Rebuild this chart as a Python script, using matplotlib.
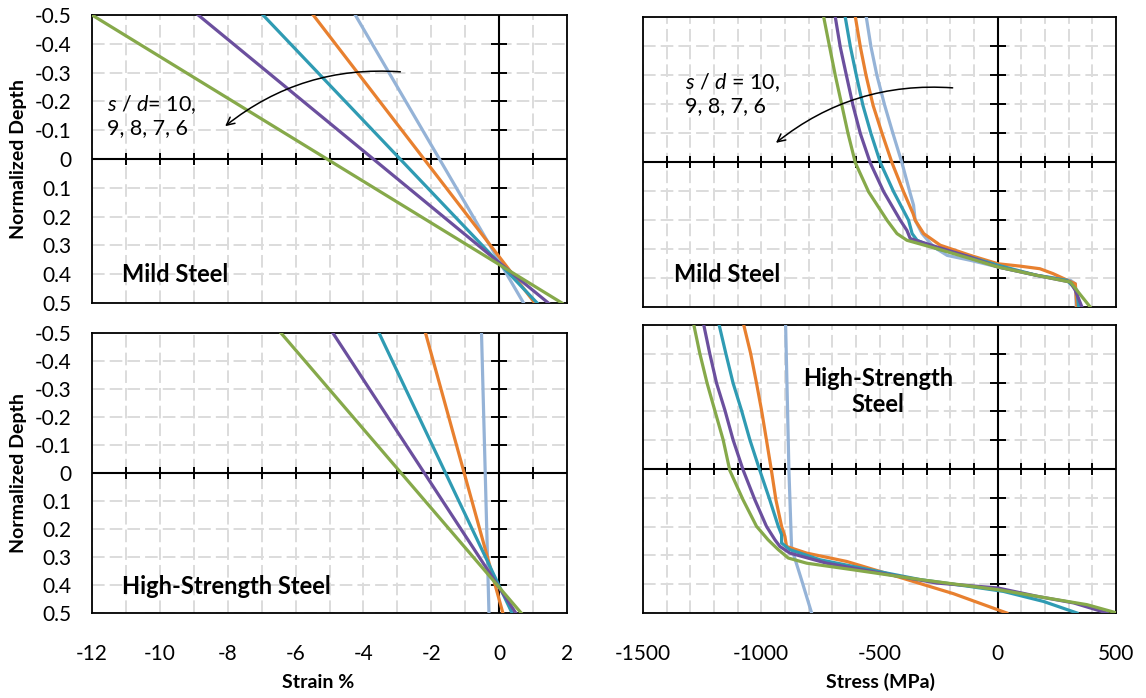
import matplotlib
matplotlib.use("Agg")
import matplotlib.pyplot as plt
import numpy as np

plt.rcParams["font.family"] = ["Lato", "DejaVu Sans"]
plt.rcParams["axes.unicode_minus"] = False
plt.rcParams["mathtext.fontset"] = "custom"
plt.rcParams["mathtext.rm"] = "Lato"
plt.rcParams["mathtext.it"] = "Lato:italic"

# series: s/d = 10, 9, 8, 7, 6
sd_values = [10, 9, 8, 7, 6]
colors = ["#95B3D7", "#E8802F", "#2F9BB3", "#6B4F9E", "#86A94A"]

# ---- strain profiles (linear), value at depth -0.5 and 0.5 ----
strain_depth = [-0.5, 0.5]
mild_strain = [
    [-4.24, 0.72],
    [-5.48, 1.05],
    [-6.96, 1.12],
    [-8.87, 1.45],
    [-12.0, 1.85],
]
hss_strain = [
    [-0.52, -0.30],
    [-2.17, 0.11],
    [-3.54, 0.38],
    [-4.90, 0.49],
    [-6.43, 0.65],
]

# ---- stress profiles, mild steel ----
mild_depth = [
    [-0.5, -0.397, -0.299, -0.195, -0.098, 0.003, 0.103, 0.149, 0.201, 0.247, 0.293, 0.322, 0.339, 0.362, 0.391, 0.408, 0.42, 0.5],
    [-0.5, -0.397, -0.299, -0.195, -0.098, 0.003, 0.103, 0.178, 0.201, 0.247, 0.287, 0.322, 0.351, 0.359, 0.368, 0.385, 0.406, 0.42, 0.5],
    [-0.5, -0.397, -0.299, -0.195, -0.098, 0.003, 0.103, 0.201, 0.247, 0.27, 0.299, 0.328, 0.356, 0.391, 0.408, 0.443, 0.5],
    [-0.5, -0.397, -0.299, -0.195, -0.098, 0.003, 0.103, 0.201, 0.236, 0.264, 0.293, 0.328, 0.362, 0.391, 0.414, 0.443, 0.5],
    [-0.5, -0.397, -0.299, -0.195, -0.098, 0.003, 0.103, 0.201, 0.247, 0.27, 0.299, 0.333, 0.362, 0.391, 0.414, 0.443, 0.5],
]
mild_stress = [
    [-556, -536, -511, -478, -443, -405, -372, -356, -349, -320, -271, -214, -116, 1, 166, 307, 328, 332],
    [-602, -581, -557, -527, -489, -447, -398, -358, -349, -313, -243, -116, 1, 94, 178, 234, 290, 328, 335],
    [-645, -623, -598, -570, -536, -496, -440, -377, -362, -341, -257, -116, 1, 166, 293, 335, 342],
    [-687, -666, -640, -612, -581, -539, -482, -412, -384, -370, -257, -116, 1, 166, 307, 328, 356],
    [-736, -711, -687, -659, -633, -602, -546, -468, -426, -384, -257, -116, 1, 166, 307, 335, 391],
]

# ---- stress profiles, high-strength steel ----
hss_depth = [
    [-0.5, -0.25, 0.005, 0.269, 0.292, 0.384, 0.5],
    [-0.5, -0.402, -0.298, -0.205, -0.101, 0.005, 0.107, 0.199, 0.234, 0.269, 0.292, 0.321, 0.373, 0.433, 0.5],
    [-0.5, -0.402, -0.298, -0.205, -0.101, 0.005, 0.107, 0.199, 0.228, 0.257, 0.28, 0.315, 0.35, 0.384, 0.408, 0.425, 0.46, 0.5],
    [-0.5, -0.402, -0.298, -0.205, -0.101, 0.005, 0.107, 0.199, 0.246, 0.269, 0.292, 0.327, 0.361, 0.396, 0.413, 0.442, 0.465, 0.5],
    [-0.5, -0.402, -0.298, -0.205, -0.101, 0.005, 0.107, 0.199, 0.246, 0.28, 0.309, 0.327, 0.35, 0.384, 0.419, 0.448, 0.471, 0.5],
]
hss_stress = [
    [-897, -890, -883, -872, -865, -830, -787],
    [-1074, -1045, -1020, -999, -978, -957, -938, -914, -900, -893, -808, -639, -427, -187, 38],
    [-1178, -1150, -1119, -1084, -1048, -1006, -964, -928, -914, -914, -879, -752, -540, -328, -117, 24, 194, 335],
    [-1243, -1218, -1189, -1154, -1119, -1076, -1027, -978, -942, -921, -879, -724, -498, -258, 0, 166, 321, 462],
    [-1285, -1260, -1229, -1197, -1161, -1133, -1077, -1020, -971, -928, -886, -808, -611, -328, 0, 208, 377, 504],
]

depth_ticks = [-0.5, -0.4, -0.3, -0.2, -0.1, 0, 0.1, 0.2, 0.3, 0.4, 0.5]
depth_labels = ["-0.5", "-0.4", "-0.3", "-0.2", "-0.1", "0", "0.1", "0.2", "0.3", "0.4", "0.5"]
strain_ticks = [-12, -10, -8, -6, -4, -2, 0, 2]
stress_ticks = [-1500, -1000, -500, 0, 500]

W, H = 1146, 698
fig = plt.figure(figsize=(W / 100, H / 100), dpi=100)


def px_axes(left, top, right, bottom):
    return fig.add_axes([left / W, 1 - bottom / H, (right - left) / W, (bottom - top) / H])


def setup(ax, xlim, xmajor, xminor_step, show_x, show_y):
    ax.set_xlim(*xlim)
    ax.set_ylim(0.5, -0.5)
    ax.set_xticks(xmajor)
    ax.set_xticks(np.arange(xlim[0], xlim[1] + xminor_step / 2, xminor_step), minor=True)
    ax.set_yticks(depth_ticks)
    ax.set_yticklabels(depth_labels if show_y else [])
    if not show_x:
        ax.set_xticklabels([])
    ax.tick_params(which="both", length=0, labelsize=15, colors="black")
    ax.tick_params(axis="x", pad=22)
    ax.tick_params(axis="y", pad=15)
    ax.grid(which="both", axis="x", color="#dcdcdc", lw=1.4, ls=(0, (6.5, 2.6)))
    ax.grid(which="major", axis="y", color="#dcdcdc", lw=1.4, ls=(0, (6.5, 2.6)))
    ax.set_axisbelow(True)
    for s in ax.spines.values():
        s.set_linewidth(1.3)
        s.set_color("black")
    # axes crossing at zero with their own tick marks
    ax.axhline(0, color="black", lw=1.5, zorder=2)
    ax.axvline(0, color="black", lw=1.5, zorder=2)
    xt = np.arange(xlim[0] + xminor_step, xlim[1], xminor_step)
    yt = [-0.4, -0.3, -0.2, -0.1, 0.1, 0.2, 0.3, 0.4]
    ax.plot(xt, np.zeros(len(xt)), ls="none", marker="|", ms=9, mew=1.4, color="black", zorder=2)
    ax.plot(np.zeros(len(yt)), yt, ls="none", marker="_", ms=12, mew=1.4, color="black", zorder=2)


ax_tl = px_axes(92, 15, 567, 303)
ax_bl = px_axes(92, 333, 567, 613)
ax_tr = px_axes(643, 17, 1116, 307)
ax_br = px_axes(643, 325, 1116, 613)

setup(ax_tl, (-12, 2), strain_ticks, 1, False, True)
setup(ax_bl, (-12, 2), strain_ticks, 1, True, True)
setup(ax_tr, (-1500, 500), stress_ticks, 100, False, False)
setup(ax_br, (-1500, 500), stress_ticks, 100, True, False)

for i, sd in enumerate(sd_values):
    ax_tl.plot(mild_strain[i], strain_depth, color=colors[i], lw=2.3, zorder=3, label=f"s/d = {sd}")
    ax_bl.plot(hss_strain[i], strain_depth, color=colors[i], lw=2.3, zorder=3)
    ax_tr.plot(mild_stress[i], mild_depth[i], color=colors[i], lw=2.3, zorder=3)
    ax_br.plot(hss_stress[i], hss_depth[i], color=colors[i], lw=2.3, zorder=3)

# annotations
ax_tl.text(-11.56, -0.15, "$\\mathit{s}$ / $\\mathit{d}$= 10,\n9, 8, 7, 6", fontsize=15.5,
           va="center", ha="left", linespacing=1.15)
ax_tl.annotate("", xy=(-8.14, -0.108), xytext=(-2.83, -0.302),
               arrowprops=dict(arrowstyle="->", connectionstyle="arc3,rad=0.2",
                               color="black", lw=1.1, mutation_scale=14))
ax_tr.text(-1321, -0.235, "$\\mathit{s}$ / $\\mathit{d}$ = 10,\n9, 8, 7, 6", fontsize=15.5,
           va="center", ha="left", linespacing=1.15)
ax_tr.annotate("", xy=(-947, -0.06), xytext=(-179, -0.255),
               arrowprops=dict(arrowstyle="->", connectionstyle="arc3,rad=0.2",
                               color="black", lw=1.1, mutation_scale=14))

ax_tl.text(-11.12, 0.4, "Mild Steel", fontsize=17, fontweight="bold", va="center", ha="left")
ax_tr.text(-1370, 0.387, "Mild Steel", fontsize=17, fontweight="bold", va="center", ha="left")
ax_bl.text(-11.12, 0.405, "High-Strength Steel", fontsize=17, fontweight="bold", va="center", ha="left")
ax_br.text(-505, -0.268, "High-Strength\nSteel", fontsize=17, fontweight="bold",
           va="center", ha="center", linespacing=1.15)

# axis titles
fig.text(19 / W, 1 - 159 / H, "Normalized Depth", rotation=90, fontsize=14, fontweight="bold",
         ha="center", va="center")
fig.text(19 / W, 1 - 473 / H, "Normalized Depth", rotation=90, fontsize=14, fontweight="bold",
         ha="center", va="center")
fig.text(318 / W, 1 - 683 / H, "Strain %", fontsize=14, fontweight="bold", ha="center", va="center")
fig.text(880 / W, 1 - 682 / H, "Stress (MPa)", fontsize=14, fontweight="bold", ha="center", va="center")

fig.savefig("out.png", dpi=100)
